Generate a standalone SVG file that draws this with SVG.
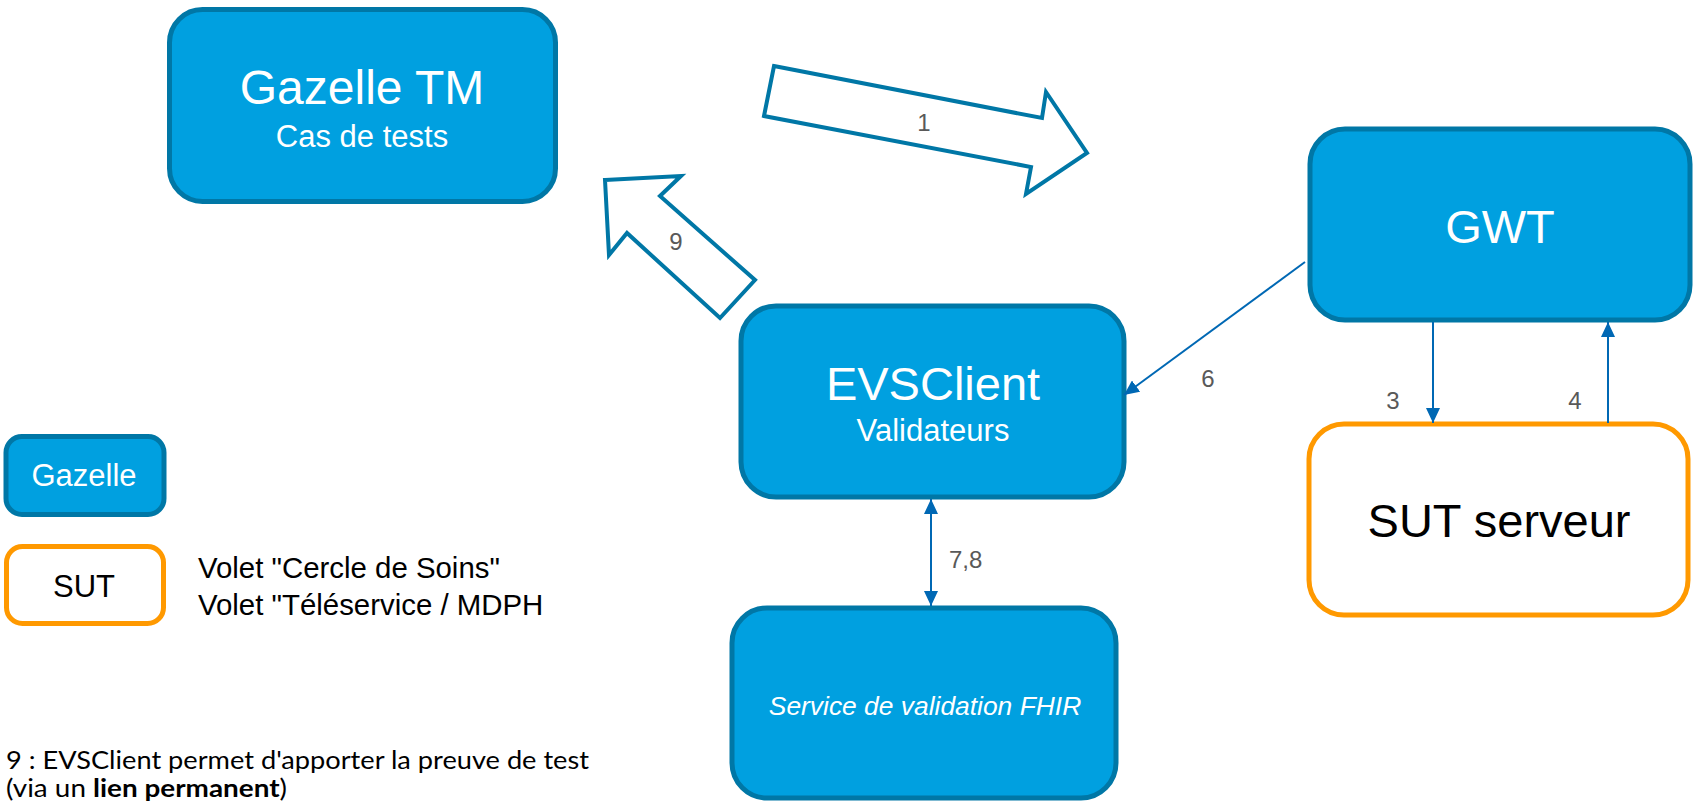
<svg xmlns="http://www.w3.org/2000/svg" width="1693" height="802" viewBox="0 0 1693 802">
<style>
.gz{fill:#00A0E0;stroke:#0077A6;stroke-width:5}
.sut{fill:#FFFFFF;stroke:#FF9900;stroke-width:5}
.wt{font-family:"Liberation Sans",Arial,sans-serif;fill:#FFFFFF;text-anchor:middle}
.bk{font-family:"Liberation Sans",Arial,sans-serif;fill:#000000}
.lbl{font-family:"Liberation Sans",Arial,sans-serif;fill:#595959;font-size:24px}
.hollow{fill:#FFFFFF;stroke:#0077A6;stroke-width:4;stroke-linejoin:miter}
.con{stroke:#0068B4;stroke-width:2;fill:none}
.note{font-family:Lato,"Open Sans",sans-serif;fill:#000000;font-size:25px}
</style>
<defs>
<marker id="ah" markerUnits="userSpaceOnUse" markerWidth="16" markerHeight="14" refX="15" refY="7" orient="auto-start-reverse" viewBox="0 0 16 14">
<path d="M0,0 L15,7 L0,14 z" fill="#0068B4"/>
</marker>
</defs>

<g id="node-gazelle-tm">
<rect class="gz" x="169.5" y="9.5" width="386" height="192" rx="33"/>
<text class="wt" x="362" y="104" font-size="48">Gazelle TM</text>
<text class="wt" x="362" y="147" font-size="31">Cas de tests</text>
</g>

<g id="node-gwt">
<rect class="gz" x="1310" y="129" width="380" height="191" rx="35"/>
<text class="wt" x="1500" y="243" font-size="47">GWT</text>
</g>

<g id="node-evsclient">
<rect class="gz" x="741" y="306" width="383" height="191" rx="35"/>
<text class="wt" x="933" y="400" font-size="47">EVSClient</text>
<text class="wt" x="933" y="441" font-size="31">Validateurs</text>
</g>

<g id="node-fhir">
<rect class="gz" x="732" y="608" width="384" height="190" rx="35"/>
<text class="wt" x="925" y="715" font-size="26.4" font-style="italic">Service de validation FHIR</text>
</g>

<g id="node-sut-serveur">
<rect class="sut" x="1309" y="424" width="379" height="191" rx="35"/>
<text class="bk" x="1499" y="537" font-size="47" text-anchor="middle">SUT serveur</text>
</g>

<g id="legend-gazelle">
<rect class="gz" x="6" y="436.5" width="158" height="78" rx="16"/>
<text class="wt" x="84" y="486" font-size="31">Gazelle</text>
</g>

<g id="legend-sut">
<rect class="sut" x="6.5" y="546.5" width="157" height="77" rx="16"/>
<text class="bk" x="84" y="597" font-size="31" text-anchor="middle">SUT</text>
<text class="bk" x="198" y="578" font-size="29.4">Volet "Cercle de Soins"</text>
<text class="bk" x="198" y="615" font-size="29.4">Volet "Téléservice / MDPH</text>
</g>

<g id="connectors">
<g id="arrow-1">
<polygon class="hollow" points="774,66 1042,118 1046,92 1087,153 1026,194 1031,167 764,116"/>
<text class="lbl" x="924" y="131" text-anchor="middle">1</text>
</g>
<g id="arrow-9">
<polygon class="hollow" points="605,180 681,176 660,196 755,280 720,318 627,233 609,255"/>
<text class="lbl" x="676" y="250" text-anchor="middle">9</text>
</g>
<g id="edge-6">
<line class="con" x1="1305" y1="262" x2="1124" y2="395" marker-end="url(#ah)"/>
<text class="lbl" x="1208" y="387" text-anchor="middle">6</text>
</g>
<g id="edge-3">
<line class="con" x1="1433" y1="322" x2="1433" y2="423" marker-end="url(#ah)"/>
<text class="lbl" x="1393" y="409" text-anchor="middle">3</text>
</g>
<g id="edge-4">
<line class="con" x1="1608" y1="423" x2="1608" y2="322" marker-end="url(#ah)"/>
<text class="lbl" x="1575" y="409" text-anchor="middle">4</text>
</g>
<g id="edge-7-8">
<line class="con" x1="931" y1="499" x2="931" y2="606" marker-start="url(#ah)" marker-end="url(#ah)"/>
<text class="lbl" x="949" y="568">7,8</text>
</g>
</g>

<g id="footnote">
<text class="note" x="6" y="769" textLength="583" lengthAdjust="spacingAndGlyphs">9 : EVSClient permet d'apporter la preuve de test</text>
<text class="note" x="6" y="797" textLength="281" lengthAdjust="spacingAndGlyphs">(via un <tspan font-weight="bold">lien permanent</tspan>)</text>
</g>
</svg>
